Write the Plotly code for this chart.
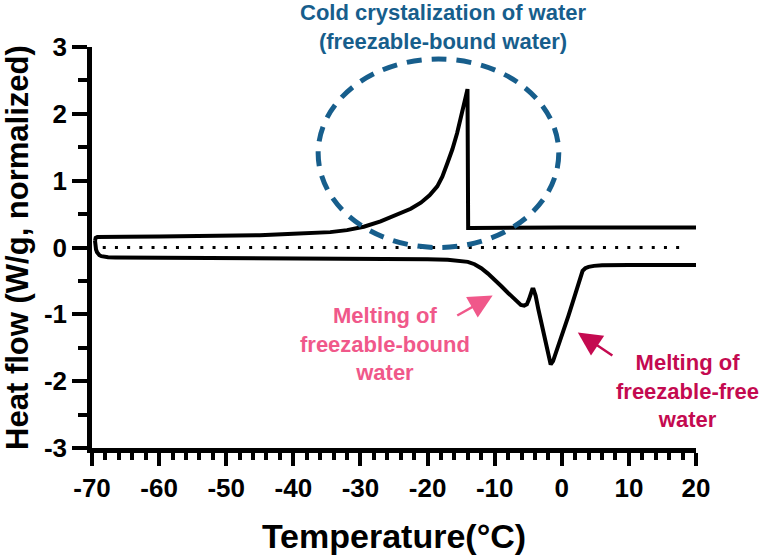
import plotly.graph_objects as go

# ---- data ----
upper_T = [-69.55, -69.45, -69.2, -68.5, -65, -60, -55, -50, -45, -40, -37, -34.5, -32, -29.5, -27,
           -24.5, -22.5, -21, -19.7, -18.55, -17.8, -17.05, -16.3, -15.6, -15.1, -14.6, -14.3, -14.05,
           -13.95, -13.5, -10, 0, 10, 20]
upper_HF = [0.10, 0.145, 0.158, 0.16, 0.16, 0.165, 0.17, 0.175, 0.185, 0.205, 0.215, 0.23, 0.26, 0.31, 0.39,
            0.49, 0.58, 0.67, 0.78, 0.915, 1.06, 1.26, 1.47, 1.71, 1.90, 2.11, 2.26, 2.37,
            0.29, 0.29, 0.295, 0.30, 0.30, 0.30]

lower_T = [-69.55, -69.5, -69.4, -69.25, -69.1, -68.9, -68.6, -68.2, -67.6, -66.5, -60, -50, -40, -30, -20, -17,
           -15, -14, -13, -12, -11, -10, -9, -8, -7.2, -6.6, -6.1, -5.6, -5.2, -4.9, -4.6, -4.4, -4.2,
           -3.9, -3.5, -3.0, -2.5, -2.0, -1.65, -1.3, -0.8, -0.2, 0.4, 1.0, 1.6, 2.1, 2.5, 2.8, 3.1, 3.5,
           4.0, 4.8, 6, 10, 15, 20]
lower_HF = [0.10, 0.03, -0.03, -0.07, -0.095, -0.115, -0.13, -0.14, -0.145, -0.148, -0.15, -0.155, -0.16, -0.165, -0.175, -0.185,
            -0.2, -0.215, -0.25, -0.31, -0.39, -0.48, -0.58, -0.68, -0.76, -0.82, -0.86, -0.87, -0.85, -0.78, -0.68, -0.63, -0.63,
            -0.72, -0.92, -1.16, -1.4, -1.62, -1.75, -1.70, -1.56, -1.38, -1.20, -1.02, -0.83, -0.66, -0.52, -0.42, -0.35, -0.31,
            -0.29, -0.275, -0.265, -0.26, -0.26, -0.26]

zero_T = [-68.4, 18.3]
zero_HF = [0, 0]

x_tick_vals = [-70, -60, -50, -40, -30, -20, -10, 0, 10, 20]
x_tick_text = ["-70", "-60", "-50", "-40", "-30", "-20", "-10", "0", "10", "20"]
y_tick_vals = [-3, -2, -1, 0, 1, 2, 3]
y_tick_text = ["-3", "-2", "-1", "0", "1", "2", "3"]

BLUE = "#175e8c"
PINK = "#f0588a"
CRIMSON = "#c40a50"
FONT = "Liberation Sans"

fig = go.Figure()
fig.add_trace(go.Scatter(x=zero_T, y=zero_HF, mode="lines",
                         line=dict(color="black", width=3, dash="3px,9.2px"),
                         hoverinfo="skip", showlegend=False))
fig.add_trace(go.Scatter(x=upper_T, y=upper_HF, mode="lines",
                         line=dict(color="black", width=4), showlegend=False))
fig.add_trace(go.Scatter(x=lower_T, y=lower_HF, mode="lines",
                         line=dict(color="black", width=4), showlegend=False))

# dashed ellipse
fig.add_shape(type="circle", xref="x", yref="y", x0=-36.3, x1=-0.45, y0=0.0, y1=2.82,
              line=dict(color=BLUE, width=5, dash="15px,10px"), layer="above")

tickfont = dict(family=FONT, size=26, color="black", weight="bold")

fig.update_layout(
    width=762, height=560,
    margin=dict(l=92, r=66, t=47, b=112, autoexpand=False),
    paper_bgcolor="white", plot_bgcolor="white",
    xaxis=dict(range=[-70, 20], showgrid=False, zeroline=False, automargin=False,
               showline=True, linecolor="black", linewidth=4.5,
               ticks="outside", ticklen=13, tickwidth=4, tickcolor="black",
               tickvals=x_tick_vals, ticktext=x_tick_text, tickfont=tickfont,
               minor=dict(dtick=2, ticks="outside", ticklen=7, tickwidth=3.5, tickcolor="black", showgrid=False),
               title=dict(text="Temperature(°C)", font=dict(family=FONT, size=34, color="black", weight="bold"),
                          standoff=24)),
    yaxis=dict(range=[-3, 3], showgrid=False, zeroline=False, automargin=False,
               showline=True, linecolor="black", linewidth=4.5,
               ticks="outside", ticklen=15, tickwidth=4, tickcolor="black",
               tickvals=y_tick_vals, ticktext=y_tick_text, tickfont=tickfont,
               minor=dict(dtick=0.5, ticks="outside", ticklen=9, tickwidth=3.5, tickcolor="black", showgrid=False)),
    annotations=[
        dict(x=-0.1235, y=0.5, xref="paper", yref="paper", showarrow=False, textangle=-90,
             xanchor="center", yanchor="middle",
             text="Heat flow (W/g, normalized)",
             font=dict(family=FONT, size=31, color="black", weight="bold")),
        dict(x=0.581, y=1.05, xref="paper", yref="paper", showarrow=False,
             xanchor="center", yanchor="middle",
             text="Cold crystalization of water<br>(freezable-bound water)",
             font=dict(family=FONT, size=22, color=BLUE, weight="bold")),
        dict(x=-26.3, y=-1.45, xref="x", yref="y", showarrow=False,
             text="Melting of<br>freezable-bound<br>water",
             font=dict(family=FONT, size=22, color=PINK, weight="bold")),
        dict(x=18.7, y=-2.15, xref="x", yref="y", showarrow=False,
             text="Melting of<br>freezable-free<br>water",
             font=dict(family=FONT, size=22, color=CRIMSON, weight="bold")),
        dict(x=-10.3, y=-0.72, ax=-15.8, ay=-1.03, xref="x", yref="y", axref="x", ayref="y",
             showarrow=True, arrowhead=2, arrowsize=1.9, arrowwidth=2.5, arrowcolor=PINK, text=""),
        dict(x=2.39, y=-1.27, ax=7.76, ay=-1.63, xref="x", yref="y", axref="x", ayref="y",
             showarrow=True, arrowhead=2, arrowsize=1.9, arrowwidth=2.5, arrowcolor=CRIMSON, text=""),
    ],
)

# remove the browser's default 8px page margin so the figure fills the window exactly
fig.write_html("out.html", config={"displayModeBar": False},
               post_script="document.body.style.margin='0';")
